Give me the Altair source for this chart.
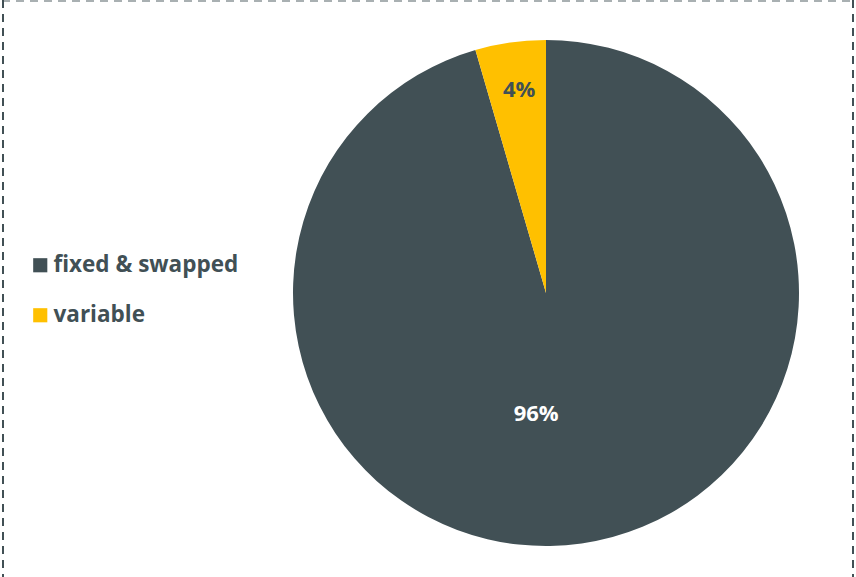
import altair as alt
import pandas as pd

categories = ["fixed & swapped", "variable"]
values = [95.5, 4.5]
labels = ["96%", "4%"]
colors = ["#415055", "#FFC000"]

df = pd.DataFrame({"category": categories, "value": values, "label": labels,
                   "order": [0, 1]})

W, H = 856, 577
CX, CY, R = 546, 293, 253
FONT = "Open Sans"

base = alt.Chart(df).encode(
    theta=alt.Theta("value:Q", stack=True),
    order=alt.Order("order:Q"),
)

pie = base.mark_arc(stroke="white", strokeWidth=0).encode(
    x=alt.value(CX), y=alt.value(CY),
    radius=alt.value(R),
    color=alt.Color(
        "category:N",
        scale=alt.Scale(domain=categories, range=colors),
        legend=alt.Legend(
            title=None, orient="none", legendX=29, legendY=254,
            symbolType="square", symbolSize=200, symbolStrokeWidth=0,
            labelFont=FONT, labelFontSize=22.5, labelFontWeight="bold",
            labelColor="#415055", rowPadding=27, labelOffset=2,
            labelLimit=400, symbolOpacity=1,
        ),
    ),
)

lab_big = alt.Chart(df).mark_text(
    font=FONT, fontSize=22, fontWeight="bold", color="white", dx=-27
).encode(
    theta=alt.Theta("value:Q", stack=True),
    order=alt.Order("order:Q"),
    x=alt.value(CX), y=alt.value(CY),
    radius=alt.value(122),
    text="label:N",
    opacity=alt.condition(alt.datum.category == "fixed & swapped", alt.value(1), alt.value(0)),
)
lab_small = alt.Chart(df).mark_text(
    font=FONT, fontSize=22, fontWeight="bold", color="#415055", dx=2
).encode(
    theta=alt.Theta("value:Q", stack=True),
    order=alt.Order("order:Q"),
    x=alt.value(CX), y=alt.value(CY),
    radius=alt.value(205),
    text="label:N",
    opacity=alt.condition(alt.datum.category == "variable", alt.value(1), alt.value(0)),
)

border_df = pd.DataFrame({"k": [0]})
top = alt.Chart(border_df).mark_rule(color="#A9B0B2", strokeWidth=2, strokeDash=[8, 6]).encode(
    x=alt.value(2), x2=alt.value(854), y=alt.value(1))
left = alt.Chart(border_df).mark_rule(color="#415055", strokeWidth=2, strokeDash=[8, 6]).encode(
    x=alt.value(3), y=alt.value(0), y2=alt.value(577))
right = alt.Chart(border_df).mark_rule(color="#415055", strokeWidth=2, strokeDash=[8, 6]).encode(
    x=alt.value(853), y=alt.value(0), y2=alt.value(577))

chart = alt.layer(pie, lab_big, lab_small, top, left, right).properties(
    width=W, height=H, padding=0, autosize=alt.AutoSizeParams(type="none"),
    background="white",
).configure_view(stroke=None)

chart.save("out.html", embed_options={"renderer": "svg", "actions": False})
